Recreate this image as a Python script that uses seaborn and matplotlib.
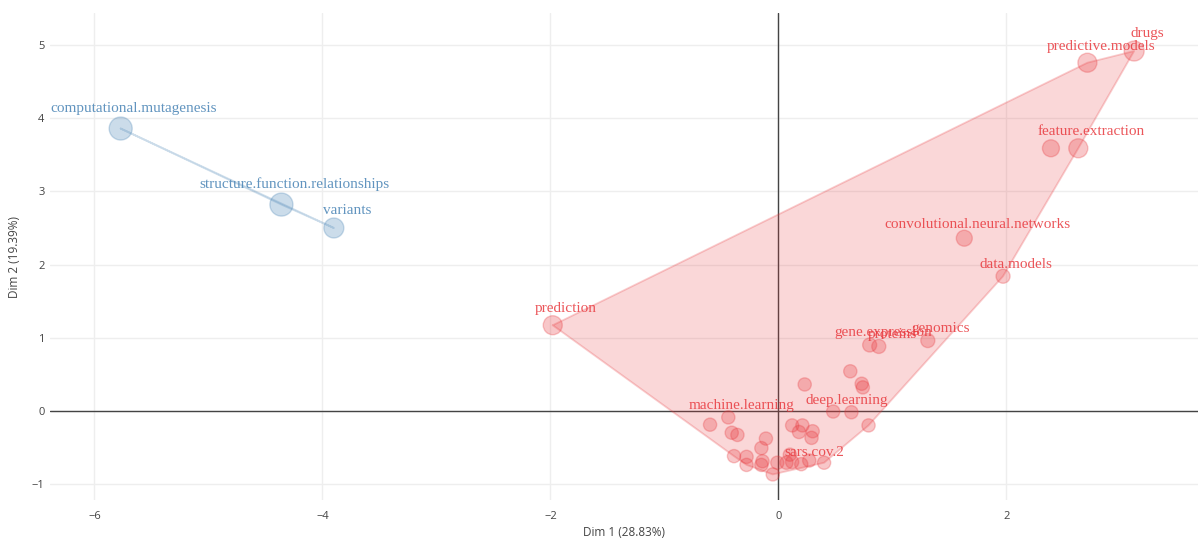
import numpy as np
import pandas as pd
import matplotlib
matplotlib.use("Agg")
import matplotlib.pyplot as plt
import seaborn as sns

# Keyword coordinates on the first two dimensions, grouped by cluster
names = [
    "computational.mutagenesis", "structure.function.relationships", "variants",
    "prediction", "drugs", "predictive.models", "", "feature.extraction",
    "convolutional.neural.networks", "data.models", "genomics", "gene.expression",
    "proteins", "machine.learning", "deep.learning", "sars.cov.2",
    "", "", "", "", "", "", "", "", "", "", "", "", "", "", "",
    "", "", "", "", "", "", "", "", "", "", "", "", "",
]
dim1 = [
    -5.77, -4.36, -3.90,
    -1.98, 3.12, 2.71, 2.39, 2.63,
    1.63, 1.97, 1.31, 0.80,
    0.88, -0.44, 0.48, 0.20,
    0.63, 0.23, 0.73, 0.74, 0.64, 0.79, -0.60, -0.41, -0.36, 0.12, 0.21, 0.18, 0.30, 0.29, -0.11,
    -0.15, -0.39, -0.28, -0.28, -0.15, -0.14, -0.05, -0.01, 0.07, 0.12, 0.40, 0.10, 0.27,
]
dim2 = [
    3.86, 2.82, 2.50,
    1.17, 4.92, 4.76, 3.59, 3.59,
    2.36, 1.84, 0.96, 0.90,
    0.88, -0.09, -0.01, -0.73,
    0.54, 0.36, 0.37, 0.32, -0.02, -0.20, -0.19, -0.30, -0.33, -0.20, -0.20, -0.29, -0.28, -0.37, -0.38,
    -0.51, -0.62, -0.63, -0.74, -0.74, -0.69, -0.87, -0.71, -0.71, -0.70, -0.71, -0.60, -0.68,
]
contrib = [
    10.0, 10.0, 6.4,
    5.4, 6.4, 5.4, 3.4, 5.4,
    2.5, 0.9, 0.9, 0.9,
    0.9, 0.3, 0.3, 0.3,
    0.3, 0.3, 0.3, 0.3, 0.3, 0.3, 0.3, 0.3, 0.3, 0.3, 0.3, 0.3, 0.3, 0.3, 0.3,
    0.3, 0.3, 0.3, 0.3, 0.3, 0.3, 0.3, 0.3, 0.3, 0.3, 0.3, 0.3, 0.3,
]
cluster = ["2"] * 3 + ["1"] * 41

x_title = "Dim 1 (28.83%)"
y_title = "Dim 2 (19.39%)"
x_ticks = [-6, -4, -2, 0, 2]
y_ticks = [-1, 0, 1, 2, 3, 4, 5]

df = pd.DataFrame({"name": names, "dim1": dim1, "dim2": dim2,
                   "contrib": contrib, "cluster": cluster})

palette = {"1": "#E8383D", "2": "#4682B4"}
SIZES = (85, 275)
SIZE_NORM = (0, 10)


def convex_hull(points):
    pts = sorted(set(points))
    if len(pts) <= 2:
        return pts

    def cross(o, a, b):
        return (a[0] - o[0]) * (b[1] - o[1]) - (a[1] - o[1]) * (b[0] - o[0])

    lower, upper = [], []
    for p in pts:
        while len(lower) >= 2 and cross(lower[-2], lower[-1], p) <= 0:
            lower.pop()
        lower.append(p)
    for p in reversed(pts):
        while len(upper) >= 2 and cross(upper[-2], upper[-1], p) <= 0:
            upper.pop()
        upper.append(p)
    return lower[:-1] + upper[:-1]


sns.set_theme(style="white")
fig = plt.figure(figsize=(12.01, 5.40), dpi=100)
ax = fig.add_axes([50 / 1201, 40 / 540, 1148 / 1201, 487 / 540])

# grid and zero lines
for xv in x_ticks:
    ax.axvline(xv, color="#EEEEEE", lw=1, zorder=0)
for yv in y_ticks:
    ax.axhline(yv, color="#EEEEEE", lw=1, zorder=0)
ax.axhline(0, color="#444444", lw=1, zorder=0.5)
ax.axvline(0, color="#444444", lw=1, zorder=0.5)

# cluster hulls
for cl, grp in df.groupby("cluster"):
    hull = convex_hull(list(zip(grp["dim1"], grp["dim2"])))
    hx = [p[0] for p in hull] + [hull[0][0]]
    hy = [p[1] for p in hull] + [hull[0][1]]
    ax.fill(hx, hy, color=palette[cl], alpha=0.2, lw=0, zorder=1)
    ax.plot(hx, hy, color=palette[cl], alpha=0.25, lw=1.3, zorder=1.2)

# keyword points
sns.scatterplot(data=df, x="dim1", y="dim2", hue="cluster", size="contrib",
                palette=palette, sizes=SIZES, size_norm=SIZE_NORM,
                alpha=0.28, edgecolor="face", linewidth=1.0,
                legend=False, ax=ax, zorder=2)

# keyword labels placed above their points
for _, row in df.iterrows():
    if not row["name"]:
        continue
    w = min(max(row["contrib"], SIZE_NORM[0]), SIZE_NORM[1])
    s = SIZES[0] + (w - SIZE_NORM[0]) / (SIZE_NORM[1] - SIZE_NORM[0]) * (SIZES[1] - SIZES[0])
    r_px = np.sqrt(s) * 100 / 72 / 2
    dy_pt = (1.8 * r_px - 0.5) * 72 / 100
    ax.annotate(row["name"], (row["dim1"], row["dim2"]),
                xytext=(9.5, dy_pt), textcoords="offset points",
                ha="center", va="center", fontsize=11,
                family="Liberation Serif", color=palette[row["cluster"]],
                alpha=0.85, zorder=3)

ax.set_xlim(-6.39, 3.68)
ax.set_ylim(-1.22, 5.44)
ax.set_xticks(x_ticks)
ax.set_yticks(y_ticks)
ax.set_xticklabels(["\u22126", "\u22124", "\u22122", "0", "2"])
ax.set_yticklabels(["\u22121", "0", "1", "2", "3", "4", "5"])
ax.tick_params(axis="both", length=0, labelsize=8, labelcolor="#444444")
ax.tick_params(axis="x", pad=8)
ax.tick_params(axis="y", pad=4)
for lab in ax.get_xticklabels() + ax.get_yticklabels():
    lab.set_family("Open Sans")
ax.set_xlabel(x_title, fontsize=8.5, color="#444444", family="Open Sans", labelpad=3)
ax.set_ylabel(y_title, fontsize=8.5, color="#444444", family="Open Sans", labelpad=8)
for sp in ax.spines.values():
    sp.set_visible(False)

fig.savefig("out.png", dpi=100)
